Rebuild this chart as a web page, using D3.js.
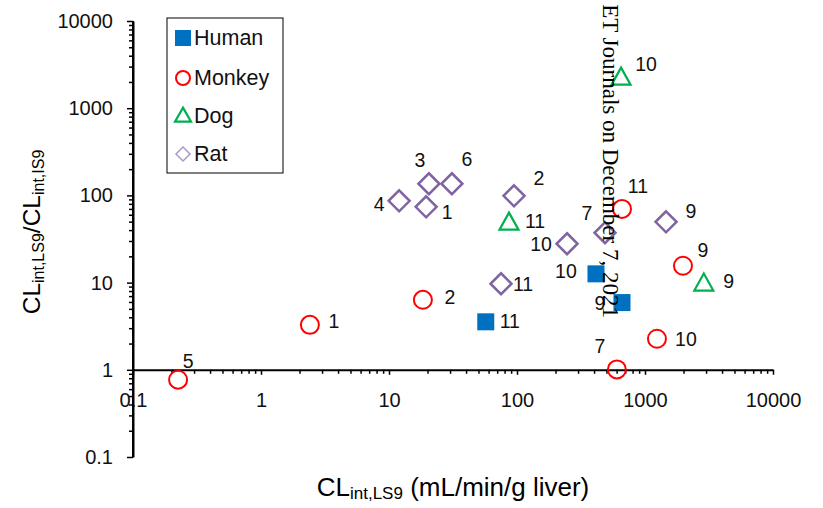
<!DOCTYPE html>
<html><head><meta charset="utf-8">
<script src="https://cdn.jsdelivr.net/npm/d3@7"></script>
<style>
body{margin:0;background:#fff;}
text{font-family:"Liberation Sans",Arial,sans-serif;fill:#000;}
</style></head>
<body><svg id="c" width="823" height="508"></svg>
<script>
// ---- data ----
const species = ["Human","Monkey","Dog","Rat"];
const humanX = [57, 414, 661];
const humanY = [3.55, 12.6, 5.9];
const humanLbl = ["11","10","9"];
const monkeyX = [0.225, 2.41, 18.4, 661, 1980, 1240, 603];
const monkeyY = [0.77, 3.28, 6.35, 70, 15.6, 2.27, 1.01];
const monkeyLbl = ["5","1","2","11","9","10","7"];
const dogX = [650, 86.6, 2880];
const dogY = [2230, 48.5, 9.7];
const dogLbl = ["10","11","9"];
const ratX = [12.0, 19.5, 20.5, 31, 94.8, 246, 487, 1460, 75];
const ratY = [86.7, 74, 136, 136, 99, 27.9, 37.3, 49.8, 9.7];
const ratLbl = ["4","1","3","6","2","10","7","9","11"];
const xTickLabels = ["0.1","1","10","100","1000","10000"];
const yTickLabels = ["0.1","1","10","100","1000","10000"];

// ---- layout / style (label offsets in px) ----
const humanOff = [[24,-1],[-30,-3],[-22,0]];
const monkeyOff = [[10,-19],[24,-4],[27,-3],[16,-23],[20,-16],[29,0],[-17,-23]];
const dogOff = [[25,-14],[26,-2],[25,-3]];
const ratOff = [[-20,3],[21,5],[-9,-24],[15,-25],[25,-18],[-26,0],[-18,-20],[25,-11],[22,0]];
const colors = {Human:"#0070C0",Monkey:"#FF0000",Dog:"#00B050",Rat:"#8064A2"};

const svg = d3.select("#c");
const x = d3.scaleLog().domain([0.1,10000]).range([133,773]);
const y = d3.scaleLog().domain([0.1,10000]).range([457,21]);

const majors = [0.1,1,10,100,1000,10000];
const minors = [];
for (let d=0.1; d<10000; d*=10) for (let k=2;k<=9;k++) minors.push(+(d*k).toPrecision(3));

// y axis
const yg = svg.append("g").attr("transform","translate(133,0)");
yg.call(d3.axisLeft(y).tickValues(minors).tickSize(4).tickFormat("").tickSizeOuter(0));
yg.call(g=>g.select(".domain").remove());
const yg2 = svg.append("g").attr("transform","translate(133,0)");
yg2.call(d3.axisLeft(y).tickValues(majors).tickSize(6).tickPadding(14).tickSizeOuter(0)
  .tickFormat((d,i)=>yTickLabels[i]));
yg2.selectAll("text").style("font-size","20px").style("fill","#111");

// x axis at y=1
const xg = svg.append("g").attr("transform",`translate(0,${y(1)})`);
xg.call(d3.axisBottom(x).tickValues(minors).tickSize(4).tickFormat("").tickSizeOuter(0));
xg.call(g=>g.select(".domain").remove());
const xg2 = svg.append("g").attr("transform",`translate(0,${y(1)})`);
xg2.call(d3.axisBottom(x).tickValues(majors).tickSize(5).tickPadding(18).tickSizeOuter(0)
  .tickFormat((d,i)=>xTickLabels[i]));
xg2.selectAll("text").style("font-size","20px").style("fill","#111");
svg.selectAll("g").attr("font-family",null).attr("font-size",null);
svg.selectAll(".tick line").attr("stroke","#000").attr("stroke-width",1.5);
svg.selectAll(".domain").attr("stroke","#000").attr("stroke-width",2);
svg.append("line").attr("x1",133).attr("x2",133).attr("y1",y(10000)).attr("y2",y(0.1))
  .attr("stroke","#000").attr("stroke-width",2);

// axis titles
const xt = svg.append("text").attr("x",453).attr("y",496).attr("text-anchor","middle").style("font-size","26px");
xt.append("tspan").text("CL");
xt.append("tspan").attr("dy",3).style("font-size","17px").text("int,LS9");
xt.append("tspan").attr("dy",-3).text(" (mL/min/g liver)");

const yt = svg.append("text").attr("transform","translate(40,232) rotate(-90)").attr("text-anchor","middle").style("font-size","24.5px");
yt.append("tspan").text("CL");
yt.append("tspan").attr("dy",4).style("font-size","16px").text("int,LS9");
yt.append("tspan").attr("dy",-4).text("/CL");
yt.append("tspan").attr("dy",4).style("font-size","16px").text("int,IS9");

function drawMarker(g, sp, cx, cy, legend){
  const c = colors[sp];
  if (sp==="Human") {
    const a=legend?16:17;
    g.append("rect").attr("x",cx-a/2).attr("y",cy-a/2).attr("width",a).attr("height",a).attr("fill",c);
  } else if (sp==="Monkey") {
    g.append("circle").attr("cx",cx).attr("cy",cy).attr("r",legend?7:9).attr("fill","none").attr("stroke",c).attr("stroke-width",2);
  } else if (sp==="Dog") {
    const w=legend?16:19, h=legend?14:17;
    g.append("path").attr("d",`M${cx},${cy-h*0.6}L${cx+w/2},${cy+h*0.4}L${cx-w/2},${cy+h*0.4}Z`)
      .attr("fill","none").attr("stroke",c).attr("stroke-width",2.2).attr("stroke-linejoin","miter");
  } else {
    const r=legend?7:10.5;
    g.append("path").attr("d",`M${cx},${cy-r}L${cx+r},${cy}L${cx},${cy+r}L${cx-r},${cy}Z`)
      .attr("fill","none").attr("stroke",legend?"#A99BC9":c).attr("stroke-width",legend?1.5:2.5);
  }
}
const sets = [
  ["Human",humanX,humanY,humanLbl,humanOff],
  ["Monkey",monkeyX,monkeyY,monkeyLbl,monkeyOff],
  ["Dog",dogX,dogY,dogLbl,dogOff],
  ["Rat",ratX,ratY,ratLbl,ratOff]
];
const pg = svg.append("g");
const lg = svg.append("g");
sets.forEach(([sp,xs,ys,lb,off])=>{
  xs.forEach((v,i)=>{
    const cx=x(v), cy=y(ys[i]);
    drawMarker(pg,sp,cx,cy,false);
    lg.append("text").attr("x",cx+off[i][0]).attr("y",cy+off[i][1]).attr("text-anchor","middle")
      .attr("dominant-baseline","central").style("font-size","19.5px").style("fill","#111").text(lb[i]);
  });
});

// legend
const leg = svg.append("g");
leg.append("rect").attr("x",167).attr("y",18).attr("width",116).attr("height",155).attr("fill","#fff").attr("stroke","#000").attr("stroke-width",1);
const legY=[38,78,116,154];
species.forEach((sp,i)=>{
  drawMarker(leg,sp,183,legY[i],true);
  leg.append("text").attr("x",194).attr("y",legY[i]).attr("dominant-baseline","central").style("font-size","21.5px").style("fill","#111").text(sp);
});

// watermark (visible part)
svg.append("text").attr("transform","translate(603,318) rotate(90)").attr("text-anchor","end")
  .style("font-family","'Liberation Serif','Times New Roman',serif").style("font-size","23px")
  .text("ET Journals on December 7, 2021");
</script></body></html>
